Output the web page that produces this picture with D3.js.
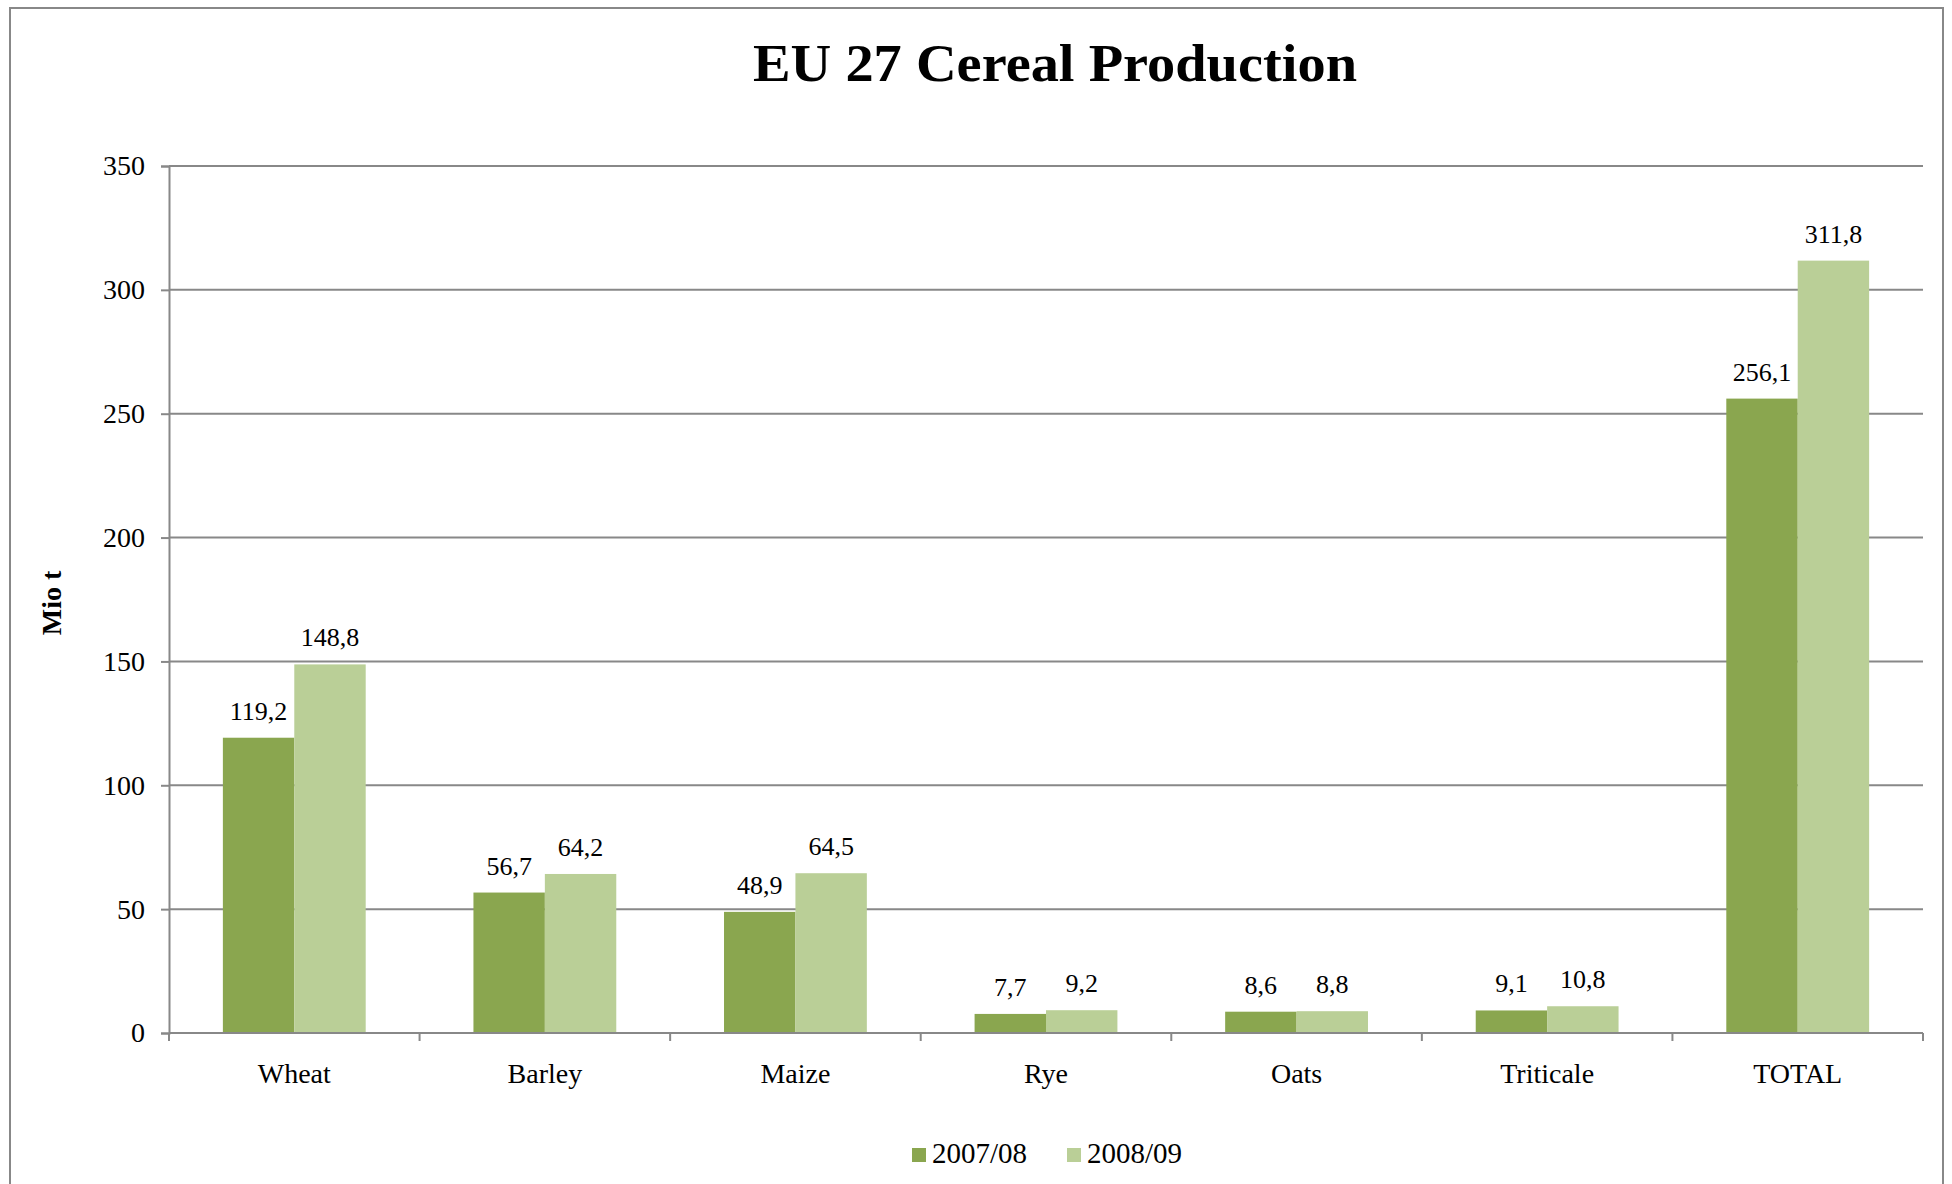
<!DOCTYPE html>
<html>
<head>
<meta charset="utf-8">
<script src="https://cdn.jsdelivr.net/npm/d3@7"></script>
<style>
  html, body { margin: 0; padding: 0; background: #fff; }
  svg { display: block; }
  text { font-family: "Liberation Serif", "Times New Roman", serif; fill: #000; }
</style>
</head>
<body>
<script>
// ---- data ----
const categories = ["Wheat", "Barley", "Maize", "Rye", "Oats", "Triticale", "TOTAL"];
const seriesNames = ["2007/08", "2008/09"];
const values2007 = [119.2, 56.7, 48.9, 7.7, 8.6, 9.1, 256.1];
const values2008 = [148.8, 64.2, 64.5, 9.2, 8.8, 10.8, 311.8];
const yTicks = [0, 50, 100, 150, 200, 250, 300, 350];
const colors = ["#8AA64F", "#BACF97"];

const W = 1952, H = 1184;
const plot = { left: 169, right: 1923, top: 166, bottom: 1033 };

const svg = d3.select("body").append("svg").attr("width", W).attr("height", H);

// outer frame
svg.append("rect").attr("x", 10).attr("y", 8).attr("width", 1933).attr("height", 1200)
  .attr("fill", "#fff").attr("stroke", "#888").attr("stroke-width", 2);

const x = d3.scaleBand().domain(categories).range([plot.left, plot.right]).paddingInner(0.43).paddingOuter(0.215);
const x0 = d3.scaleBand().domain(categories).range([plot.left, plot.right]).padding(0);
const y = d3.scaleLinear().domain([0, 350]).range([plot.bottom, plot.top]);
const xs = d3.scaleBand().domain(seriesNames).range([0, x.bandwidth()]);

// gridlines
svg.append("g").selectAll("line").data(yTicks.filter(d => d > 0)).join("line")
  .attr("x1", plot.left).attr("x2", plot.right)
  .attr("y1", d => y(d)).attr("y2", d => y(d))
  .attr("stroke", "#888").attr("stroke-width", 2);

// y axis
const yAxis = svg.append("g").attr("transform", `translate(${plot.left},0)`)
  .call(d3.axisLeft(y).tickValues(yTicks).tickSize(8).tickPadding(16).tickFormat(d3.format("d")));
yAxis.select(".domain").attr("stroke", "#888").attr("stroke-width", 2);
yAxis.selectAll(".tick line").attr("stroke", "#888").attr("stroke-width", 2);
yAxis.selectAll(".tick text").attr("font-size", 28).attr("font-family", "Liberation Serif").attr("fill", "#000").attr("dy", "0.32em");

// bars
const seriesData = [values2007, values2008];
const groups = svg.append("g").selectAll("g").data(seriesData).join("g")
  .attr("fill", (d, i) => colors[i]);
groups.selectAll("rect").data((d, i) => d.map((v, j) => ({ v, c: categories[j], s: seriesNames[i] }))).join("rect")
  .attr("x", d => x(d.c) + xs(d.s))
  .attr("width", xs.bandwidth())
  .attr("y", d => y(d.v))
  .attr("height", d => y(0) - y(d.v));

// data labels
const fmt = v => d3.format(".1f")(v).replace(".", ",");
groups.selectAll("text").data((d, i) => d.map((v, j) => ({ v, c: categories[j], s: seriesNames[i] }))).join("text")
  .attr("x", d => x(d.c) + xs(d.s) + xs.bandwidth() / 2)
  .attr("y", d => y(d.v) - 18)
  .attr("text-anchor", "middle")
  .attr("font-size", 26)
  .attr("fill", "#000")
  .text(d => fmt(d.v));

// x axis
const xAxis = svg.append("g").attr("transform", `translate(0,${plot.bottom})`)
  .call(d3.axisBottom(x0).tickSize(0).tickPadding(0));
xAxis.select(".domain").remove();
xAxis.selectAll(".tick text").attr("font-size", 28).attr("font-family", "Liberation Serif").attr("fill", "#000").attr("dy", 0).attr("y", 50);
svg.append("line").attr("x1", plot.left).attr("x2", plot.right).attr("y1", plot.bottom).attr("y2", plot.bottom)
  .attr("stroke", "#888").attr("stroke-width", 2);
const bounds = categories.map(c => x0(c)).concat([plot.right]);
svg.append("g").selectAll("line").data(bounds).join("line")
  .attr("x1", d => d).attr("x2", d => d).attr("y1", plot.bottom).attr("y2", plot.bottom + 8)
  .attr("stroke", "#888").attr("stroke-width", 2);

// title
svg.append("text").attr("x", 1055).attr("y", 81).attr("text-anchor", "middle")
  .attr("font-size", 52).attr("font-weight", "bold")
  .attr("textLength", 604).attr("lengthAdjust", "spacingAndGlyphs")
  .text("EU 27 Cereal Production");

// y axis title
svg.append("text").attr("transform", "translate(61,603) rotate(-90)").attr("text-anchor", "middle")
  .attr("font-size", 28).attr("font-weight", "bold").text("Mio t");

// legend
const legendX = [912, 1067];
const lg = svg.append("g").selectAll("g").data(seriesNames).join("g")
  .attr("transform", (d, i) => `translate(${legendX[i]},1148)`);
lg.append("rect").attr("width", 14).attr("height", 14).attr("fill", (d, i) => colors[i]);
lg.append("text").attr("x", 20).attr("y", 15).attr("font-size", 29).text(d => d);
</script>
</body>
</html>
